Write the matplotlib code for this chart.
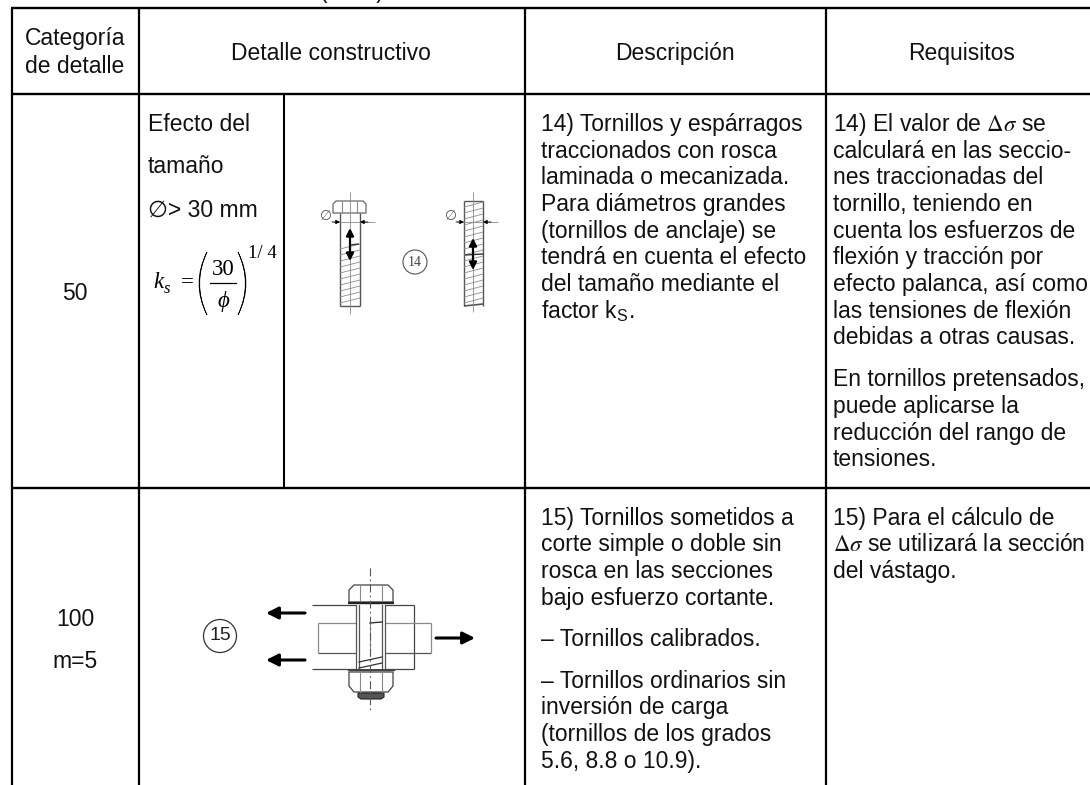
import matplotlib

matplotlib.use("Agg")
import matplotlib.pyplot as plt
from matplotlib.patches import Circle, PathPatch, Polygon, Rectangle
from matplotlib.path import Path

plt.rcParams["font.family"] = ["Liberation Sans", "DejaVu Sans"]
plt.rcParams["mathtext.fontset"] = "stix"
plt.rcParams["mathtext.default"] = "it"

FS = 16.5
SERIF = "Liberation Serif"
BLACK = "#000000"
TEXT = "#111111"
GRAY = "#555555"
LIGHT = "#8a8a8a"

# rejilla de la tabla, en pixeles de la imagen
filas_y = [8, 93.5, 487.5]
columnas_x = [11.5, 138.5, 524.5, 825.5]
columna_interior_x = 284

cabeceras = ["Detalle constructivo", "Descripción", "Requisitos"]
cabeceras_x = [331, 675, 962]
categoria = ["Categoría", "de detalle"]

efecto = ["Efecto del", "tamaño", "∅> 30 mm"]
efecto_y = [131, 173, 217]

desc_14 = [
    "14) Tornillos y espárragos",
    "traccionados con rosca",
    "laminada o mecanizada.",
    "Para diámetros grandes",
    "(tornillos de anclaje) se",
    "tendrá en cuenta el efecto",
    "del tamaño mediante el",
    r"factor k$_{\mathregular{S}}$.",
]
desc_14_y = [131, 158, 184, 211, 238, 264, 291, 318]

req_14 = [
    r"14) El valor de $\Delta\sigma$ se",
    "calculará en las seccio-",
    "nes traccionadas del",
    "tornillo, teniendo en",
    "cuenta los esfuerzos de",
    "flexión y tracción por",
    "efecto palanca, así como",
    "las tensiones de flexión",
    "debidas a otras causas.",
    "En tornillos pretensados,",
    "puede aplicarse la",
    "reducción del rango de",
    "tensiones.",
]
req_14_y = [131, 158, 184, 211, 238, 264, 291, 318, 344, 386, 413, 440, 466]

desc_15 = [
    "15) Tornillos sometidos a",
    "corte simple o doble sin",
    "rosca en las secciones",
    "bajo esfuerzo cortante.",
    "– Tornillos calibrados.",
    "– Tornillos ordinarios sin",
    "inversión de carga",
    "(tornillos de los grados",
    "5.6, 8.8 o 10.9).",
]
desc_15_y = [525, 551, 578, 605, 646, 688, 714, 741, 768]

req_15 = [
    "15) Para el cálculo de",
    r"$\Delta\sigma$ se utilizará la sección",
    "del vástago.",
]
req_15_y = [525, 551, 578]

# roscas de los tornillos del detalle 14
rosca_a_y = [249, 255, 261, 267, 273, 279, 285, 291, 297, 303]
rosca_b_y = [207, 213, 219, 225, 231, 237, 243, 249, 255, 261, 267, 273, 279, 285, 291, 297, 303]


def linea(ax, xs, ys, color=GRAY, lw=0.8, ls="-"):
    ax.plot(xs, ys, color=color, lw=lw, ls=ls, solid_capstyle="butt")


def flecha(ax, x0, y0, x1, y1, lw=2.0, escala=13, color=BLACK):
    ax.annotate(
        "",
        xy=(x1, y1),
        xytext=(x0, y0),
        arrowprops=dict(
            arrowstyle="-|>",
            color=color,
            lw=lw,
            mutation_scale=escala,
            shrinkA=0,
            shrinkB=0,
        ),
    )


def parentesis(ax, x_ext, x_int, y0, y1):
    medio = (y0 + y1) / 2
    grueso = 1.3 if x_ext < x_int else -1.3
    vertices = [
        (x_int, y0),
        (x_ext - (x_int - x_ext), medio),
        (x_int, y1),
        (x_ext + grueso - (x_int - x_ext), medio),
        (x_int, y0),
    ]
    codes = [Path.MOVETO, Path.CURVE3, Path.CURVE3, Path.CURVE3, Path.CURVE3]
    ax.add_patch(PathPatch(Path(vertices, codes), fc=BLACK, ec=BLACK, lw=0.5))


def dibujar_tabla(ax):
    for y in filas_y:
        ax.plot([11, 1090], [y, y], color=BLACK, lw=1.7, solid_capstyle="butt")
    for x in columnas_x:
        ax.plot([x, x], [8, 785], color=BLACK, lw=1.6, solid_capstyle="butt")
    ax.plot([columna_interior_x] * 2, [93, 487], color=BLACK, lw=1.5, solid_capstyle="butt")


def dibujar_textos(ax):
    ax.text(320, -2, "(cont.)", fontsize=FS, color=TEXT, va="baseline")

    ax.text(75, 45, categoria[0], fontsize=FS, color=TEXT, ha="center", va="baseline")
    ax.text(75, 73, categoria[1], fontsize=FS, color=TEXT, ha="center", va="baseline")
    for txt, x in zip(cabeceras, cabeceras_x):
        ax.text(x, 60, txt, fontsize=FS, color=TEXT, ha="center", va="baseline")

    ax.text(75, 300, "50", fontsize=FS, color=TEXT, ha="center", va="baseline")
    ax.text(75, 626, "100", fontsize=FS, color=TEXT, ha="center", va="baseline")
    ax.text(75, 668, "m=5", fontsize=FS, color=TEXT, ha="center", va="baseline")

    for txt, y in zip(efecto, efecto_y):
        ax.text(148, y, txt, fontsize=FS, color=TEXT, va="baseline")

    for txt, y in zip(desc_14, desc_14_y):
        ax.text(541, y, txt, fontsize=FS, color=TEXT, va="baseline")
    for txt, y in zip(req_14, req_14_y):
        ax.text(833, y, txt, fontsize=FS, color=TEXT, va="baseline")
    for txt, y in zip(desc_15, desc_15_y):
        ax.text(541, y, txt, fontsize=FS, color=TEXT, va="baseline")
    for txt, y in zip(req_15, req_15_y):
        ax.text(833, y, txt, fontsize=FS, color=TEXT, va="baseline")


def dibujar_formula(ax):
    ax.text(153, 288, "k", fontsize=FS, family=SERIF, style="italic", va="baseline")
    ax.text(164, 293, "s", fontsize=12, family=SERIF, style="italic", va="baseline")
    ax.text(181, 288, "=", fontsize=FS, family=SERIF, va="baseline")
    parentesis(ax, 199, 207, 252, 315)
    parentesis(ax, 246, 238, 252, 315)
    ax.text(223, 275, "30", fontsize=FS, family=SERIF, ha="center", va="baseline")
    ax.plot([210, 236], [283, 283], color=BLACK, lw=0.9)
    ax.text(223, 307, "ϕ", fontsize=FS, family=SERIF, style="italic", ha="center", va="baseline")
    ax.text(248, 258, "1/ 4", fontsize=13.5, family=SERIF, va="baseline")


def dibujar_tornillos_14(ax):
    # tornillo con cabeza
    ax.add_patch(
        Polygon(
            [(333, 204), (336, 201), (363, 201), (366, 204), (366, 213), (333, 213)],
            closed=True,
            fc="none",
            ec=GRAY,
            lw=0.8,
        )
    )
    linea(ax, [342, 342], [201, 213], LIGHT)
    linea(ax, [357, 357], [201, 213], LIGHT)
    linea(ax, [340, 340], [213, 306], GRAY, 1.0)
    linea(ax, [360, 360], [213, 306], GRAY, 1.0)
    linea(ax, [340, 360], [306, 306], GRAY, 1.0)
    linea(ax, [350, 350], [192, 314], LIGHT, 0.6)
    for y in rosca_a_y:
        linea(ax, [340, 360], [y, y - 5], LIGHT, 0.6)
    linea(ax, [333, 375], [222, 222], LIGHT, 0.6)
    flecha(ax, 332, 222, 340, 222, 0.6, 6)
    flecha(ax, 368, 222, 360, 222, 0.6, 6)
    ax.text(326, 216, "∅", fontsize=10, color=GRAY, ha="center", va="center")
    ax.annotate("", xy=(350, 228), xytext=(350, 261), arrowprops=dict(arrowstyle="<|-|>", color=BLACK, lw=1.6, mutation_scale=11, shrinkA=0, shrinkB=0))
    linea(ax, [350, 359], [245, 244], "#333333", 1.0)

    # esparrago
    linea(ax, [464, 464], [201, 306], GRAY, 1.0)
    linea(ax, [483, 483], [201, 306], GRAY, 1.0)
    linea(ax, [464, 483], [201, 201], GRAY, 1.0)
    linea(ax, [464, 483], [306, 304], GRAY, 1.2)
    linea(ax, [473, 473], [192, 312], LIGHT, 0.6)
    for y in rosca_b_y:
        linea(ax, [464, 483], [y, y - 5], LIGHT, 0.6)
    linea(ax, [457, 498], [222, 222], LIGHT, 0.6)
    flecha(ax, 456, 222, 464, 222, 0.6, 6)
    flecha(ax, 491, 222, 483, 222, 0.6, 6)
    ax.text(451, 216, "∅", fontsize=10, color=GRAY, ha="center", va="center")
    ax.annotate("", xy=(473, 238), xytext=(473, 270), arrowprops=dict(arrowstyle="<|-|>", color=BLACK, lw=1.6, mutation_scale=11, shrinkA=0, shrinkB=0))
    linea(ax, [465, 483], [255, 254], "#333333", 1.0)

    ax.add_patch(Circle((415, 262), 12, fc="none", ec=GRAY, lw=0.8))
    ax.text(415, 262, "14", fontsize=10, family=SERIF, color="#444444", ha="center", va="center")


def dibujar_tornillo_15(ax):
    # chapas
    linea(ax, [312, 414], [605, 605], "#444444", 0.9)
    linea(ax, [414, 414], [605, 669], "#444444", 0.9)
    linea(ax, [312, 414], [669, 669], "#444444", 0.9)
    linea(ax, [318, 431], [623, 623], LIGHT, 0.9)
    linea(ax, [318, 431], [653, 653], "#555555", 0.9)
    linea(ax, [318, 318], [623, 653], LIGHT, 0.9)
    linea(ax, [431, 431], [623, 653], LIGHT, 0.9)

    # vastago
    ax.add_patch(Rectangle((356, 605), 29, 64, fc="white", ec="none", zorder=2))
    for x in [356, 359, 382, 385]:
        ax.plot([x, x], [605, 668], color=GRAY, lw=0.9, zorder=3)
    ax.plot([370, 382], [623, 622], color="#333333", lw=1.0, zorder=3)
    ax.plot([370, 370], [623, 650], color=LIGHT, lw=0.8, zorder=3)
    ax.plot([359, 382], [662, 657], color="#333333", lw=0.9, zorder=3)
    ax.plot([359, 382], [668, 663], color="#333333", lw=0.9, zorder=3)

    # cabeza y tuerca
    ax.add_patch(
        Polygon(
            [(349, 602), (349, 590), (354, 585), (388, 585), (393, 590), (393, 602)],
            closed=True,
            fc="white",
            ec="#444444",
            lw=0.9,
            zorder=3,
        )
    )
    ax.plot([360, 360], [586, 602], color=LIGHT, lw=0.8, zorder=4)
    ax.plot([382, 382], [586, 602], color=LIGHT, lw=0.8, zorder=4)
    ax.plot([348, 394], [602.5, 602.5], color="#222222", lw=1.6, solid_capstyle="butt", zorder=4)

    ax.plot([348, 394], [670, 670], color="#444444", lw=1.0, zorder=4)
    ax.add_patch(
        Polygon(
            [(349, 672), (393, 672), (393, 686), (388, 692), (354, 692), (349, 686)],
            closed=True,
            fc="white",
            ec="#444444",
            lw=0.9,
            zorder=3,
        )
    )
    ax.plot([360, 360], [672, 692], color=LIGHT, lw=0.8, zorder=4)
    ax.plot([382, 382], [672, 692], color=LIGHT, lw=0.8, zorder=4)
    ax.add_patch(
        Polygon(
            [(358, 693), (384, 693), (384, 697), (381, 699), (361, 699), (358, 697)],
            closed=True,
            fc="#555555",
            ec="#222222",
            lw=0.8,
            zorder=3,
        )
    )
    ax.plot([370, 370], [568, 710], color=GRAY, lw=0.8, ls=(0, (7, 3, 1.5, 3)), zorder=5)

    # fuerzas
    flecha(ax, 305, 613, 266, 613, 2.2, 18)
    flecha(ax, 305, 660, 266, 660, 2.2, 18)
    flecha(ax, 436, 638, 475, 638, 2.2, 18)

    ax.add_patch(Circle((220, 636), 16.5, fc="none", ec="#333333", lw=0.9))
    ax.text(220, 636, "15", fontsize=14, color="#222222", ha="center", va="center")


def main():
    fig = plt.figure(figsize=(10.9, 7.85), dpi=100)
    ax = fig.add_axes([0, 0, 1, 1])
    ax.set_xlim(0, 1090)
    ax.set_ylim(785, 0)
    ax.axis("off")

    dibujar_tabla(ax)
    dibujar_textos(ax)
    dibujar_formula(ax)
    dibujar_tornillos_14(ax)
    dibujar_tornillo_15(ax)

    fig.savefig("out.png", dpi=100, facecolor="white")
    plt.close(fig)


if __name__ == "__main__":
    main()
